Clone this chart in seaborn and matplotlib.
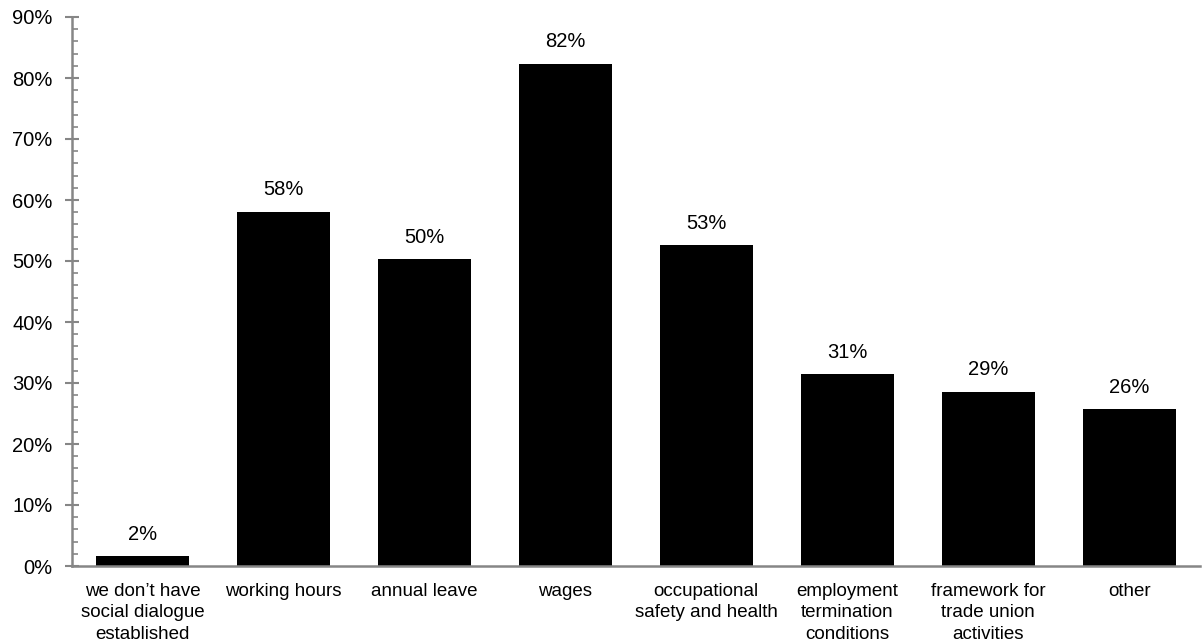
import matplotlib
matplotlib.use("Agg")
import matplotlib.pyplot as plt
import seaborn as sns
import pandas as pd
from matplotlib.ticker import MultipleLocator, FuncFormatter

categories = ["we don\u2019t have\nsocial dialogue\nestablished", "working hours", "annual leave", "wages",
              "occupational\nsafety and health", "employment\ntermination\nconditions",
              "framework for\ntrade union\nactivities", "other"]
values = [1.6, 58.1, 50.3, 82.3, 52.6, 31.4, 28.6, 25.7]
labels = ["2%", "58%", "50%", "82%", "53%", "31%", "29%", "26%"]

sns.set_theme(style="white")
plt.rcParams['font.family'] = ['Liberation Sans', 'DejaVu Sans']
plt.rcParams['text.color'] = 'black'
plt.rcParams['xtick.color'] = 'black'
plt.rcParams['ytick.color'] = 'black'

df = pd.DataFrame({"cat": categories, "val": values})
fig = plt.figure(figsize=(12.02, 6.41), dpi=100)
ax = fig.add_axes([72/1202, 1 - 566/641, 1 - 72/1202 - 0.002, (566 - 17)/641])
sns.barplot(data=df, x="cat", y="val", color="black", saturation=1, width=0.66, ax=ax)
for p in ax.patches:
    p.set_edgecolor("none")
ax.bar_label(ax.containers[0], labels=labels, padding=9, fontsize=14.5, color="black")
ax.set_ylim(0, 90)
ax.set_xlim(-0.5, 7.5)
ax.yaxis.set_major_locator(MultipleLocator(10))
ax.yaxis.set_minor_locator(MultipleLocator(2))
ax.yaxis.set_major_formatter(FuncFormatter(lambda v, p: f"{v:.0f}%"))
ax.set_xlabel("")
ax.set_ylabel("")
for s in ["top", "right"]:
    ax.spines[s].set_visible(False)
axcol = "#868686"
ax.spines["left"].set_color(axcol)
ax.spines["bottom"].set_color(axcol)
ax.spines["left"].set_linewidth(1.8)
ax.spines["bottom"].set_linewidth(1.8)
ax.tick_params(axis="y", which="major", direction="inout", length=10, width=1.5, color=axcol,
               labelsize=14.5, labelcolor="black", pad=9, left=True)
ax.tick_params(axis="y", which="minor", direction="in", length=4, width=1.2, color=axcol, left=True)
ax.tick_params(axis="x", length=0, labelsize=13.5, labelcolor="black", pad=12)
for t in ax.get_xticklabels():
    t.set_linespacing(1.35)
ax.grid(False)
fig.savefig("out.png", dpi=100)
